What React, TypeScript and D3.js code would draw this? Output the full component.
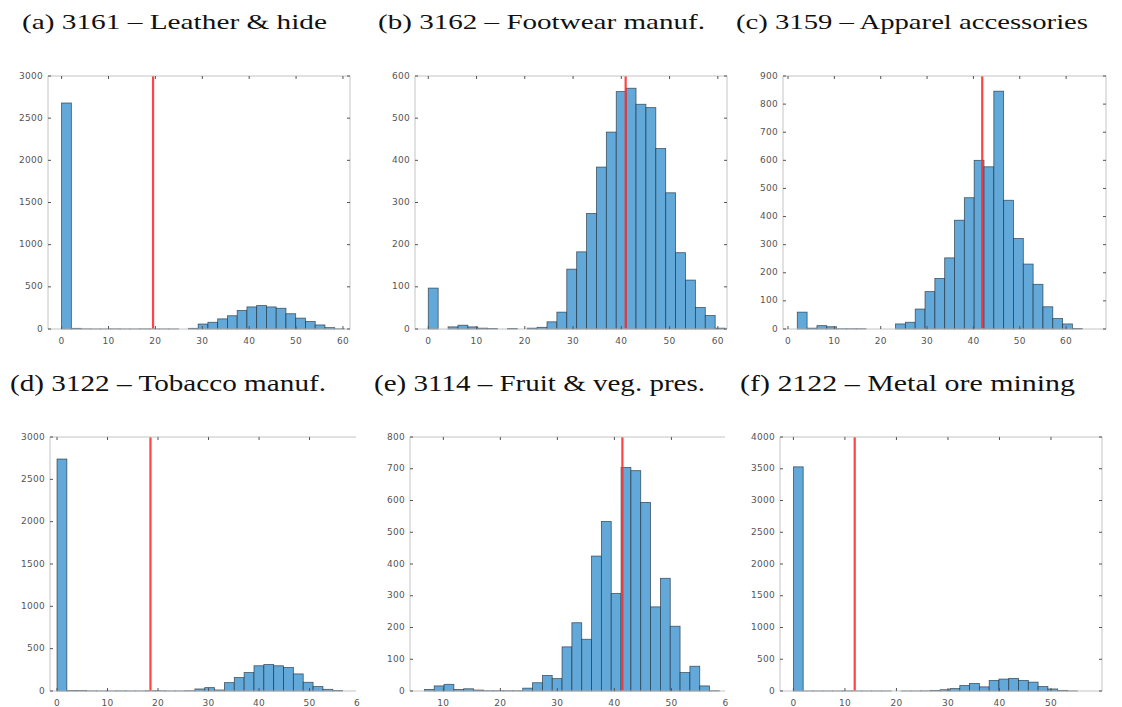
import React from "react";
import * as d3 from "d3";

// subplot titles
const titles = [
  "(a) 3161 – Leather & hide",
  "(b) 3162 – Footwear manuf.",
  "(c) 3159 – Apparel accessories",
  "(d) 3122 – Tobacco manuf.",
  "(e) 3114 – Fruit & veg. pres.",
  "(f) 2122 – Metal ore mining",
];

// histogram bins: first edge and bin width, then counts per bin
const binStart = [0, 0, 2, 0, 6.67, 0];
const binWidth = [2.08, 2.05, 2.12, 1.95, 1.725, 1.9];

const countsA = [2680, 8, 2, 1, 1, 2, 1, 1, 2, 1, 1, 1, 0, 8, 59, 80, 120, 157, 220, 262, 278, 262, 246, 181, 129, 89, 48, 16, 2];
const countsB = [97, 0, 5, 9, 5, 2, 1, 0, 1, 0, 2, 4, 17, 40, 142, 183, 274, 384, 467, 563, 571, 533, 525, 428, 323, 181, 116, 51, 32, 2];
const countsC = [60, 3, 12, 8, 1, 1, 1, 0, 0, 0, 18, 24, 71, 133, 180, 253, 387, 467, 600, 577, 846, 458, 322, 231, 159, 79, 37, 18, 2];
const countsD = [2740, 5, 5, 2, 1, 1, 2, 1, 1, 4, 3, 1, 1, 4, 24, 40, 12, 99, 159, 218, 298, 313, 298, 278, 202, 103, 52, 20, 6];
const countsE = [5, 16, 21, 5, 7, 3, 1, 1, 1, 1, 9, 26, 49, 39, 139, 215, 163, 425, 534, 307, 704, 694, 594, 265, 355, 204, 58, 78, 16, 1];
const countsF = [3530, 1, 1, 1, 1, 2, 1, 1, 1, 1, 0, 1, 1, 3, 10, 20, 38, 86, 118, 65, 167, 188, 199, 167, 140, 70, 32, 10, 2];
const counts = [countsA, countsB, countsC, countsD, countsE, countsF];

// red vertical reference line
const redLine = [19.5, 40.9, 41.9, 18.5, 41.4, 11.9];

// axes
const xDomains = [[-2.9, 61.5], [-2.75, 61.9], [-1.08, 68.6], [-1.39, 59.2], [4.15, 59.4], [-2.6, 59.9]];
const yMax = [3000, 600, 900, 3000, 800, 4000];
const yStep = [500, 100, 100, 500, 100, 500];
const xTicks = [
  [0, 10, 20, 30, 40, 50, 60],
  [0, 10, 20, 30, 40, 50, 60],
  [0, 10, 20, 30, 40, 50, 60],
  [0, 10, 20, 30, 40, 50, 60],
  [10, 20, 30, 40, 50, 60],
  [0, 10, 20, 30, 40, 50],
];

// pixel layout of each axes box (d and e are cropped on the right)
const boxes = [
  { left: 48, right: 350, top: 76, bottom: 329, cropped: false, clip: 1122 },
  { left: 415, right: 727, top: 76, bottom: 329, cropped: false, clip: 1122 },
  { left: 783, right: 1106, top: 76, bottom: 329, cropped: false, clip: 1122 },
  { left: 50, right: 356, top: 437, bottom: 691, cropped: true, clip: 360 },
  { left: 410, right: 725, top: 437, bottom: 691, cropped: true, clip: 728.5 },
  { left: 780, right: 1102, top: 437, bottom: 691, cropped: false, clip: 1122 },
];
const titlePos = [
  { x: 22, y: 29, w: 305, fs: 22 },
  { x: 378, y: 29, w: 327, fs: 22 },
  { x: 736, y: 29, w: 352, fs: 22 },
  { x: 10, y: 391, w: 316, fs: 24 },
  { x: 374, y: 391, w: 331, fs: 24 },
  { x: 740, y: 391, w: 335, fs: 24 },
];

const barFill = "#62a8d8";
const tickFont = "'DejaVu Sans', sans-serif";

const Panel = ({ i }) => {
  const b = boxes[i];
  const x = d3.scaleLinear().domain(xDomains[i]).range([b.left, b.right]);
  const y = d3.scaleLinear().domain([0, yMax[i]]).range([b.bottom, b.top]);
  const yTicks = d3.range(0, yMax[i] + 1, yStep[i]);
  const bins = counts[i].map((c, k) => {
    const x0 = binStart[i] + k * binWidth[i];
    return { x0, x1: x0 + binWidth[i], c };
  });
  const clipId = `clip${i}`;
  return (
    <g>
      <defs>
        <clipPath id={clipId}>
          <rect x={0} y={b.top - 20} width={b.clip} height={b.bottom - b.top + 50} />
        </clipPath>
      </defs>
      <g clipPath={`url(#${clipId})`}>
        {bins.map((d, k) => (
          <rect
            key={k}
            x={x(d.x0)}
            width={x(d.x1) - x(d.x0)}
            y={y(d.c)}
            height={y(0) - y(d.c)}
            fill={barFill}
            stroke="#1d2d3a"
            strokeOpacity={0.75}
            strokeWidth={0.8}
          />
        ))}
        <line x1={x(redLine[i])} x2={x(redLine[i])} y1={b.top} y2={b.bottom} stroke="#ff3030" strokeWidth={2.2} opacity={0.9} />
        {/* box */}
        <line x1={b.left} x2={b.right} y1={b.top} y2={b.top} stroke="#c4c4c4" />
        <line x1={b.left} x2={b.right} y1={b.bottom} y2={b.bottom} stroke="#c4c4c4" />
        <line x1={b.left} x2={b.left} y1={b.top} y2={b.bottom} stroke="#c4c4c4" />
        {!b.cropped && <line x1={b.right} x2={b.right} y1={b.top} y2={b.bottom} stroke="#c4c4c4" />}
        {xTicks[i].map((t) => (
          <g key={"x" + t}>
            {x(t) <= b.right && (
              <>
                <line x1={x(t)} x2={x(t)} y1={b.bottom} y2={b.bottom - 3} stroke="#555" />
                <line x1={x(t)} x2={x(t)} y1={b.top} y2={b.top + 3} stroke="#555" />
              </>
            )}
            <text
              x={x(t)}
              y={b.bottom + 12}
              textAnchor="middle"
              dominantBaseline="middle"
              fontFamily={tickFont}
              fontSize={9}
              letterSpacing={0.3}
              fill="#555"
            >
              {t}
            </text>
          </g>
        ))}
        {yTicks.map((t) => (
          <g key={"y" + t}>
            <line x1={b.left} x2={b.left + 3} y1={y(t)} y2={y(t)} stroke="#555" />
            {!b.cropped && <line x1={b.right} x2={b.right - 3} y1={y(t)} y2={y(t)} stroke="#555" />}
            <text
              x={b.left - 5}
              y={y(t)}
              textAnchor="end"
              dominantBaseline="middle"
              fontFamily={tickFont}
              fontSize={9}
              letterSpacing={0.3}
              fill="#555"
            >
              {t}
            </text>
          </g>
        ))}
      </g>
      <text
        x={titlePos[i].x}
        y={titlePos[i].y}
        fontFamily="'Liberation Serif', 'DejaVu Serif', serif"
        fontSize={titlePos[i].fs}
        textLength={titlePos[i].w}
        lengthAdjust="spacingAndGlyphs"
        fill="#111"
      >
        {titles[i]}
      </text>
    </g>
  );
};

export default function App() {
  return (
    <svg
      width={1122}
      height={707}
      style={{ position: "absolute", left: 0, top: 0, background: "#fff" }}
    >
      <rect width={1122} height={707} fill="#fff" />
      {titles.map((_, i) => (
        <Panel key={i} i={i} />
      ))}
    </svg>
  );
}
